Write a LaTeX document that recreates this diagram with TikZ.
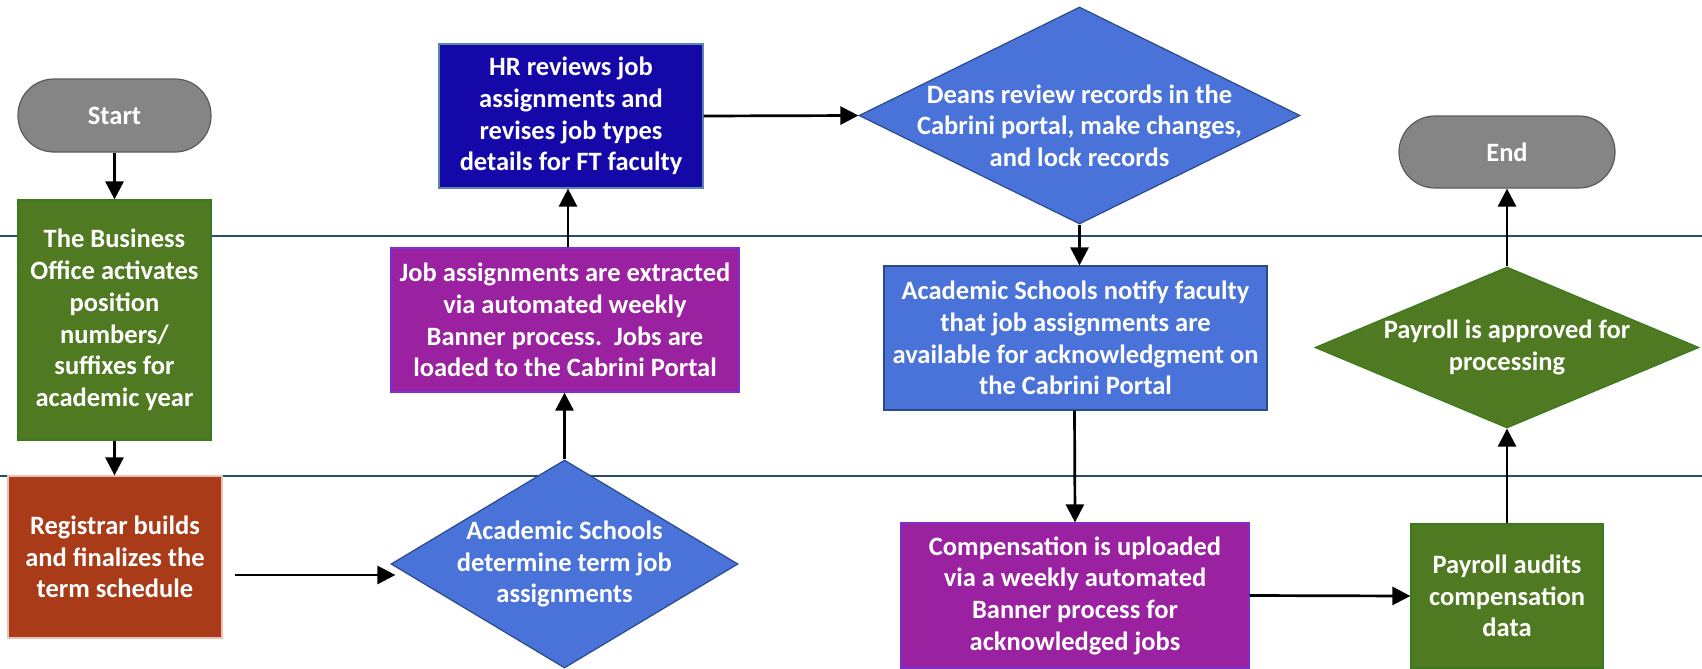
\documentclass[tikz,border=0pt]{standalone}
\usepackage{fontspec}
\setmainfont{Carlito}
\usetikzlibrary{arrows.meta,shapes.geometric}
\definecolor{termgray}{HTML}{858585}
\definecolor{termedge}{HTML}{5A5A5A}
\definecolor{leafgreen}{HTML}{507A21}
\definecolor{leafedge}{HTML}{3A7A1E}
\definecolor{hrblue}{HTML}{1508A8}
\definecolor{hredge}{HTML}{5B87A8}
\definecolor{plum}{HTML}{9A219F}
\definecolor{plumedge}{HTML}{7B2FD0}
\definecolor{midblue}{HTML}{4A73D9}
\definecolor{midedge}{HTML}{2B4A8A}
\definecolor{rust}{HTML}{A93B18}
\definecolor{rustedge}{HTML}{E8C2B4}
\definecolor{lanecol}{HTML}{274E66}
\tikzset{
  basebox/.style={draw, line width=1.2pt, inner sep=0pt, align=center, text=white,
    font=\fontsize{26.5}{31.7}\selectfont\bfseries},
  termbox/.style={basebox, rectangle, rounded corners=36pt, fill=termgray, draw=termedge},
  greenbox/.style={basebox, rectangle, fill=leafgreen, draw=leafedge},
  hrbox/.style={basebox, rectangle, fill=hrblue, draw=hredge},
  plumbox/.style={basebox, rectangle, fill=plum, draw=plumedge},
  bluebox/.style={basebox, rectangle, fill=midblue, draw=midedge},
  rustbox/.style={basebox, rectangle, fill=rust, draw=rustedge},
  diashape/.style={basebox, diamond, aspect=1},
  diatext/.style={align=center, text=white, inner sep=0pt,
    font=\fontsize{26.5}{31.7}\selectfont\bfseries},
  flow/.style={line width=2.7pt, -{Triangle[length=18pt,width=18pt]}},
  lane/.style={line width=2pt, draw=lanecol}
}
\begin{document}
\begin{tikzpicture}[x=1pt,y=-1pt]
\useasboundingbox (0,0) rectangle (1702,669);
% swimlane separators
\coordinate (l1a) at (0,236); \coordinate (l1b) at (1702,236);
\coordinate (l2a) at (0,476); \coordinate (l2b) at (1702,476);
\draw[lane] (l1a) -- (l1b);
\draw[lane] (l2a) -- (l2b);

% nodes
\node[termbox, minimum width=193pt, minimum height=73pt] (start) at (114.5,115.5) {Start};
\node[greenbox, minimum width=193pt, minimum height=240pt] (bus) at (114.5,320)
  {The Business\\Office activates\\position\\numbers/\\suffixes for\\academic year};
\node[rustbox, minimum width=214pt, minimum height=162pt] (reg) at (115,557)
  {Registrar builds\\and finalizes the\\term schedule};
\node[diashape, fill=midblue, draw=midedge, minimum width=347pt, minimum height=208pt] (aca) at (564.5,564) {};
\node[diatext] (acat) at (aca.center) {Academic Schools\\determine term job\\assignments};
\node[plumbox, minimum width=348pt, minimum height=144pt] (pur) at (565,320)
  {Job assignments are extracted\\via automated weekly\\Banner process.\ \ Jobs are\\loaded to the Cabrini Portal};
\node[hrbox, minimum width=264pt, minimum height=144pt] (hr) at (571,116)
  {HR reviews job\\assignments and\\revises job types\\details for FT faculty};
\node[diashape, fill=midblue, draw=midedge, minimum width=441pt, minimum height=217pt] (deans) at (1079.5,115.5) {};
\node[diatext] (deanst) at ([yshift=-10pt]deans.center) {Deans review records in the\\Cabrini portal, make changes,\\and lock records};
\node[bluebox, minimum width=383pt, minimum height=144pt] (notify) at (1075.5,338)
  {Academic Schools notify faculty\\that job assignments are\\available for acknowledgment on\\the Cabrini Portal};
\node[plumbox, minimum width=348pt, minimum height=145pt] (comp) at (1075,595.5)
  {Compensation is uploaded\\via a weekly automated\\Banner process for\\acknowledged jobs};
\node[greenbox, minimum width=192pt, minimum height=144pt] (aud) at (1507,596)
  {Payroll audits\\compensation\\data};
\node[diashape, fill=leafgreen, draw=leafedge, minimum width=384pt, minimum height=161pt] (appr) at (1507,347.5) {};
\node[diatext] (apprt) at (appr.center) {Payroll is approved for\\processing};
\node[termbox, minimum width=216pt, minimum height=72pt] (end) at (1507,152) {End};

% connectors
\draw[flow] (start) -- (bus);
\draw[flow] (bus.south) -- (bus.south |- reg.north);
\draw[flow] ([xshift=12pt,yshift=-18pt]reg.east) -- ([xshift=5pt,yshift=-11pt]aca.west);
\draw[flow] (aca.north) -- (aca.north |- pur.south);
\draw[flow] ([xshift=3pt]pur.north) -- ([xshift=-3pt]hr.south);
\draw[flow] (hr.east) -- (deans.west);
\draw[flow] (deans.south) -- (deans.south |- notify.north);
\draw[flow] ([xshift=-1pt]notify.south) -- (comp.north);
\draw[flow] (comp.east) -- (aud.west);
\draw[flow] (aud.north) -- (appr.south);
\draw[flow] (appr.north) -- (end.south);
\end{tikzpicture}
\end{document}
